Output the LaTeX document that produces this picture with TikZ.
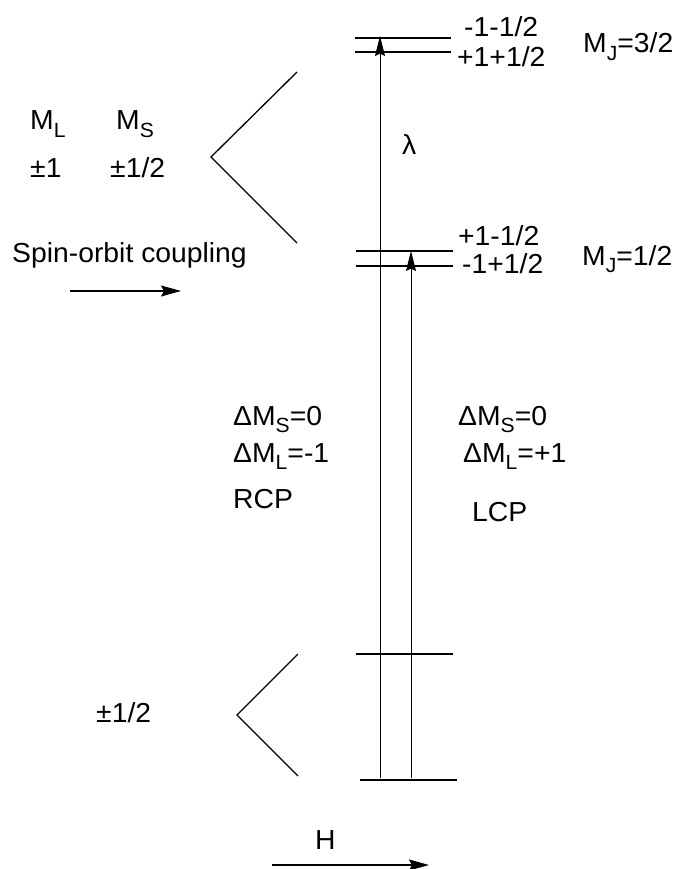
\documentclass[tikz,border=0pt]{standalone}
\usepackage{fontspec}
\setmainfont{Liberation Sans}[FakeStretch=1.03]
\usetikzlibrary{arrows.meta}
\newcommand\lsub[1]{\raisebox{-0.28em}{\fontsize{20.5}{22}\selectfont #1}}
\begin{document}
\begin{tikzpicture}[x=1pt,y=-1pt,
  every node/.style={inner sep=0pt, font=\fontsize{27.5}{32}\selectfont},
  lbl/.style={anchor=base west},
  lvl/.style={line width=1.5pt},
  wedge/.style={line width=1.3pt},
  trans/.style={line width=1pt, -{Stealth[length=20pt,width=10pt,inset=2.5pt]}},
  hint/.style={line width=1.2pt, -{Stealth[length=20pt,width=11pt,inset=3pt]}}]
\useasboundingbox (0,0) rectangle (679,869);
% energy levels
\coordinate (t1a) at (355,38);  \coordinate (t1b) at (451,38);
\coordinate (t2a) at (355,52);  \coordinate (t2b) at (451,52);
\coordinate (m1a) at (356,251); \coordinate (m1b) at (453,251);
\coordinate (m2a) at (356,266); \coordinate (m2b) at (453,266);
\coordinate (b1a) at (356,654); \coordinate (b1b) at (453,654);
\coordinate (b2a) at (360,780); \coordinate (b2b) at (457,780);
\draw[lvl] (t1a) -- (t1b);
\draw[lvl] (t2a) -- (t2b);
\draw[lvl] (m1a) -- (m1b);
\draw[lvl] (m2a) -- (m2b);
\draw[lvl] (b1a) -- (b1b);
\draw[lvl] (b2a) -- (b2b);
% wedges
\coordinate (w1t) at (297,72); \coordinate (w1v) at (211,157); \coordinate (w1b) at (297,243);
\coordinate (w2t) at (298,654); \coordinate (w2v) at (237,715); \coordinate (w2b) at (298,776);
\draw[wedge] (w1t) -- (w1v) -- (w1b);
\draw[wedge] (w2t) -- (w2v) -- (w2b);
% transitions
\coordinate (r0) at (380,778); \coordinate (r1) at (380,36);
\coordinate (l0) at (411,778); \coordinate (l1) at (411,251);
\draw[trans] (r0) -- (r1);
\draw[trans] (l0) -- (l1);
% side arrows
\coordinate (so0) at (70,291); \coordinate (so1) at (181,291);
\draw[hint] (so0) -- (so1);
\coordinate (h0) at (272,865); \coordinate (h1) at (429,865);
\draw[hint] (h0) -- (h1);
% labels
\node[lbl] (a1) at (464,37) {-1-1/2};
\node[lbl] (a2) at (457,67) {+1+1/2};
\node[lbl] (mj3) at (583,53) {M\lsub{J}=3/2};
\node[lbl] (a3) at (458,245) {+1-1/2};
\node[lbl] (a4) at (462,273) {-1+1/2};
\node[lbl] (mj1) at (582,265) {M\lsub{J}=1/2};
\node[lbl] (ml) at (30,130) {M\lsub{L}};
\node[lbl] (ms) at (116,130) {M\lsub{S}};
\node[lbl] (pm1) at (30,178) {±1};
\node[lbl] (pm2) at (110,178) {±1/2};
\node[lbl] (so) at (12,262) {Spin-orbit coupling};
\node[lbl] (lam) at (402,155) {λ};
\node[lbl] (d1) at (233,425) {ΔM\lsub{S}=0};
\node[lbl] (d2) at (233,462) {ΔM\lsub{L}=-1};
\node[lbl] (rcp) at (233,508) {RCP};
\node[lbl] (d3) at (458,425) {ΔM\lsub{S}=0};
\node[lbl] (d4) at (463,462) {ΔM\lsub{L}=+1};
\node[lbl] (lcp) at (472,521) {LCP};
\node[lbl] (pm3) at (96,722) {±1/2};
\node[lbl] (hh) at (315,849) {H};
\end{tikzpicture}
\end{document}
